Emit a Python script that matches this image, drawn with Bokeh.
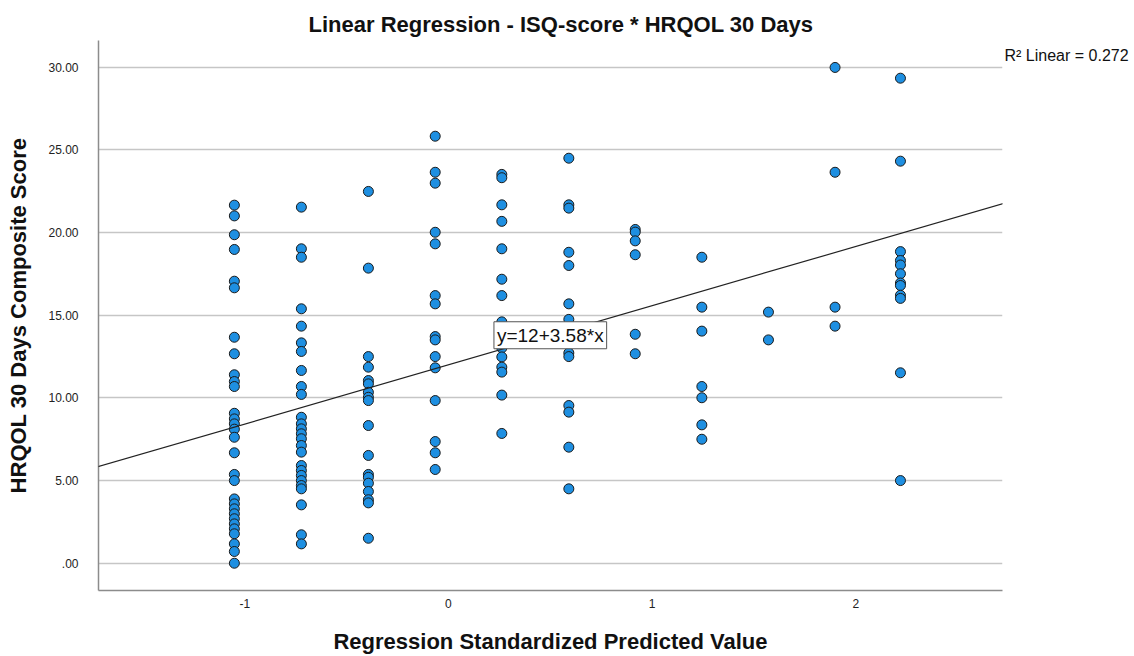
from bokeh.plotting import figure
from bokeh.models import Range1d, FixedTicker, Label, Slope, LinearAxis
from bokeh.embed import file_html
from bokeh.resources import INLINE

# Standardized predicted value for each group of cases (one column of points each)
col_x = [-1.051, -0.722, -0.393, -0.065, 0.262, 0.591, 0.917, 1.244, 1.571, 1.898, 2.219]

# HRQOL 30 Days composite scores per column
col_1 = [21.66, 21.01, 19.87, 18.98, 17.06, 16.66, 13.67, 12.67, 11.40, 10.99, 10.69,
         9.07, 8.73, 8.43, 8.11, 7.62, 6.68, 5.37, 5.00, 3.89, 3.59, 3.29, 2.99, 2.69,
         2.38, 2.08, 1.78, 1.17, 0.71, 0.0]
col_2 = [21.54, 19.02, 18.51, 15.39, 14.34, 13.33, 12.81, 11.66, 10.69, 10.21, 8.83,
         8.43, 8.13, 7.83, 7.53, 7.12, 6.72, 5.91, 5.61, 5.31, 5.00, 4.70, 4.50, 3.53,
         1.72, 1.17]
col_3 = [22.49, 17.85, 12.50, 11.86, 11.05, 10.85, 10.34, 10.04, 9.84, 8.33, 6.52,
         5.37, 5.20, 4.84, 4.34, 3.84, 3.65, 1.51]
col_4 = [25.83, 23.65, 22.99, 20.02, 19.32, 16.19, 15.69, 13.71, 13.51, 12.50, 11.82,
         9.84, 7.36, 6.68, 5.67]
col_5 = [23.52, 23.32, 21.68, 20.68, 19.02, 17.18, 16.19, 14.60, 13.60, 13.02, 12.48,
         11.86, 11.56, 10.17, 7.85]
col_6 = [24.50, 21.68, 21.48, 18.81, 18.01, 15.69, 14.75, 12.72, 12.50, 9.54, 9.14,
         7.02, 4.50]
col_7 = [20.19, 20.03, 19.50, 18.66, 13.85, 12.67]
col_8 = [18.51, 15.49, 14.04, 10.69, 10.01, 8.37, 7.50]
col_9 = [15.19, 13.51]
col_10 = [29.99, 23.65, 15.49, 14.34]
col_11 = [29.34, 24.32, 18.85, 18.31, 18.04, 17.51, 16.95, 16.80, 16.21, 16.02, 11.52, 5.00]

columns = [col_1, col_2, col_3, col_4, col_5, col_6, col_7, col_8, col_9, col_10, col_11]

# Fitted line and fit statistic
intercept = 12
slope = 3.58
r_squared = 0.272

x_ticks = [-1, 0, 1, 2]
x_tick_labels = ["-1", "0", "1", "2"]
y_ticks = [0, 5, 10, 15, 20, 25, 30]
y_tick_labels = [".00", "5.00", "10.00", "15.00", "20.00", "25.00", "30.00"]

xs, ys = [], []
for cx, vals in zip(col_x, columns):
    xs.extend([cx] * len(vals))
    ys.extend(vals)

FONT = "Liberation Sans"

p = figure(
    width=1134, height=656,
    x_range=Range1d(-1.718, 2.720), y_range=Range1d(-1.65, 31.62),
    output_backend="svg", toolbar_location=None,
    min_border_left=98, min_border_right=132, min_border_top=40, min_border_bottom=66,
    title="Linear Regression - ISQ-score * HRQOL 30 Days",
)
p.outline_line_color = None
p.background_fill_color = "white"
p.border_fill_color = "white"

p.title.align = "left"
p.title.offset = 210
p.title.text_font = FONT
p.title.text_font_size = "22px"
p.title.text_font_style = "bold"
p.title.text_color = "#111111"
p.title.standoff = 7

# axes
p.xaxis.ticker = FixedTicker(ticks=x_ticks)
p.xaxis.major_label_overrides = dict(zip(x_ticks, x_tick_labels))
p.yaxis.ticker = FixedTicker(ticks=y_ticks)
p.yaxis.major_label_overrides = dict(zip(y_ticks, y_tick_labels))
for ax in (p.xaxis, p.yaxis):
    ax.major_tick_line_color = None
    ax.minor_tick_line_color = None
    ax.major_tick_out = 0
    ax.major_tick_in = 0
    ax.minor_tick_out = 0
    ax.minor_tick_in = 0
    ax.axis_line_color = "#8c8c8c"
    ax.axis_line_width = 1.5
    ax.major_label_text_font = FONT
    ax.major_label_text_font_size = "12px"
    ax.major_label_text_color = "#222222"
    ax.axis_label_text_font = FONT
    ax.axis_label_text_font_size = "22px"
    ax.axis_label_text_font_style = "bold"
    ax.axis_label_text_color = "#111111"
p.xaxis.axis_label = "Regression Standardized Predicted Value"
p.yaxis.axis_label = "HRQOL 30 Days Composite Score"
p.xaxis.major_label_standoff = 8
p.xaxis.axis_label_standoff = 18
p.yaxis.major_label_standoff = 20
p.yaxis.axis_label_standoff = 14

p.xgrid.visible = False
p.ygrid.ticker = FixedTicker(ticks=y_ticks)
p.ygrid.grid_line_color = "#c6c6c6"
p.ygrid.grid_line_width = 1.5

# regression line
p.add_layout(Slope(gradient=slope, y_intercept=intercept, line_color="#222222", line_width=1.2))

p.scatter(xs, ys, size=10, fill_color="#1e8fe1", line_color="#1a1a1a", line_width=1)

# equation box on the fitted line
eq_x = 0.5
p.add_layout(Label(
    x=eq_x, y=intercept + slope * eq_x,
    text=f"y={intercept}+{slope}*x",
    text_align="center", text_baseline="middle",
    text_font=FONT, text_font_size="19px", text_color="#111111",
    background_fill_color="white", border_line_color="#555555", border_line_width=1,
    padding=3,
))

# fit statistic in the right margin: a bare right axis carrying a single label
r2_pos = 30.71
r2_axis = LinearAxis(
    ticker=FixedTicker(ticks=[r2_pos]),
    major_label_overrides={r2_pos: f"R² Linear = {r_squared}"},
)
r2_axis.axis_line_color = None
r2_axis.major_tick_line_color = None
r2_axis.minor_tick_line_color = None
r2_axis.major_tick_out = 0
r2_axis.major_tick_in = 0
r2_axis.minor_tick_out = 0
r2_axis.minor_tick_in = 0
r2_axis.major_label_standoff = 2
r2_axis.major_label_text_font = FONT
r2_axis.major_label_text_font_size = "16px"
r2_axis.major_label_text_color = "#111111"
p.add_layout(r2_axis, "right")

open("out.html", "w").write(file_html(p, INLINE))
